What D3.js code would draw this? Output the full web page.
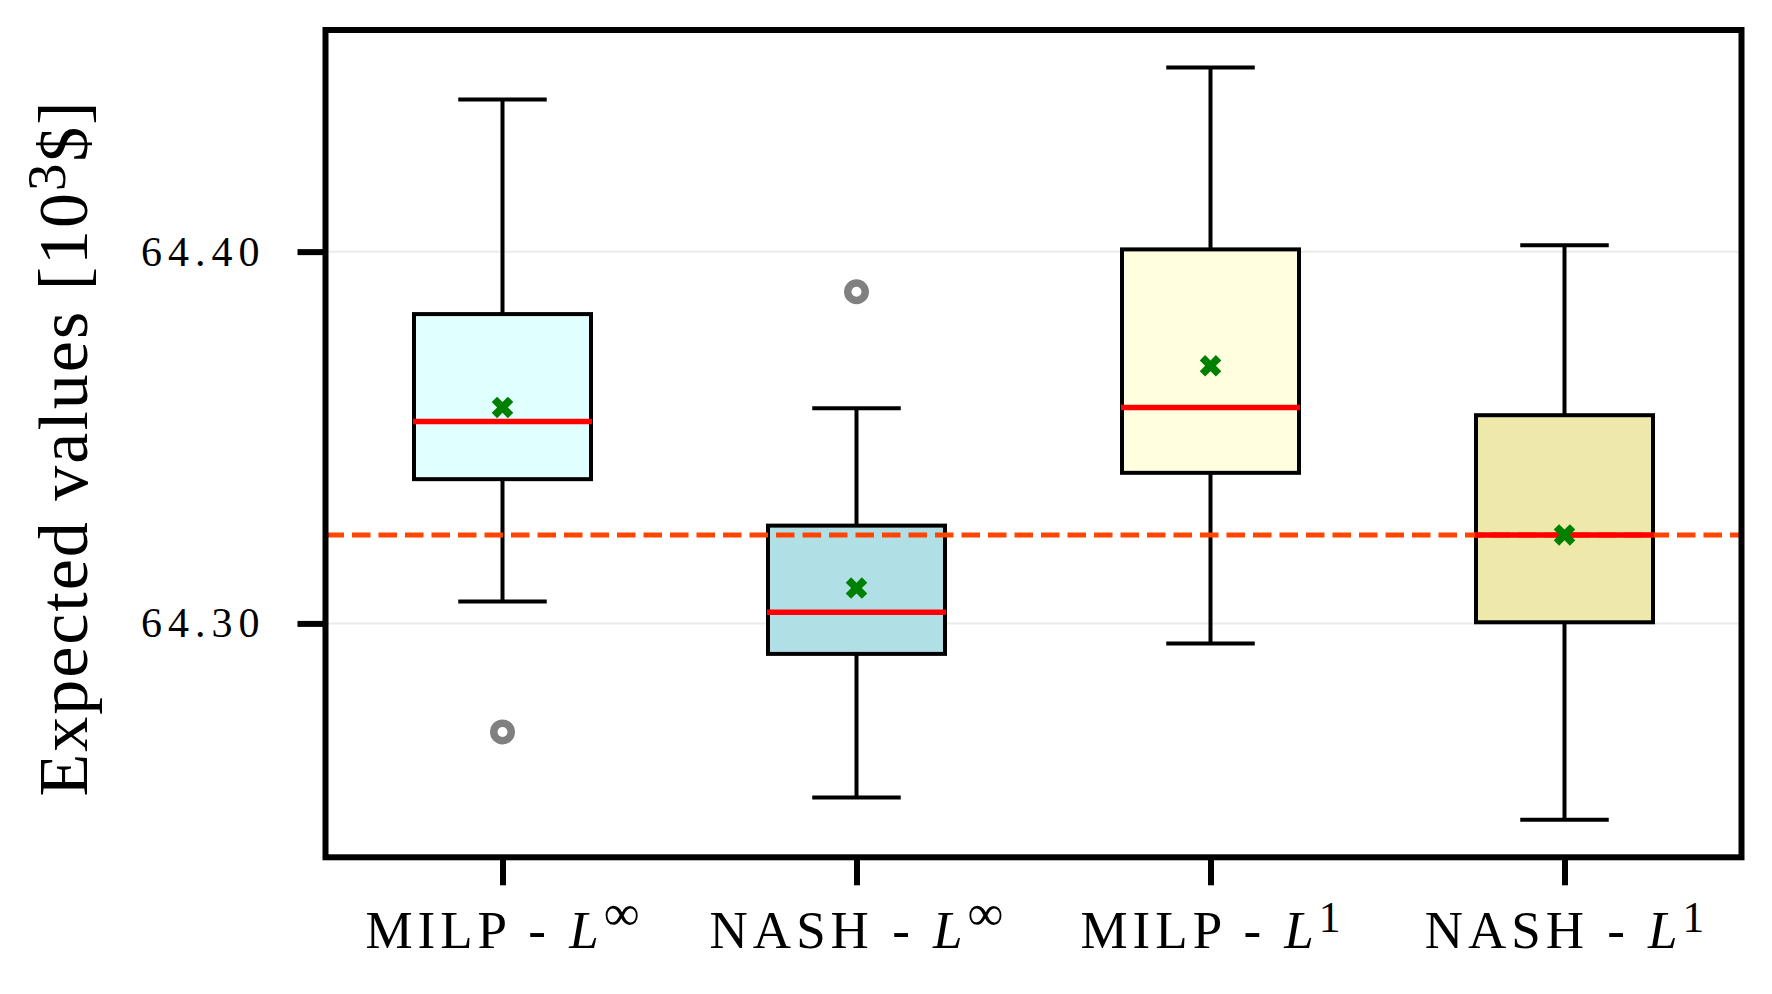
<!DOCTYPE html>
<html>
<head>
<meta charset="utf-8">
<script src="https://cdn.jsdelivr.net/npm/d3@7"></script>
<style>
  html, body { margin: 0; padding: 0; background: #fff; }
  svg { display: block; }
  text { font-family: "Liberation Serif", "DejaVu Serif", serif; fill: #000; white-space: pre; }
</style>
</head>
<body>
<script>
// ---------------- data ----------------
const methods      = ["MILP", "NASH", "MILP", "NASH"];
const norms        = ["\u221E", "\u221E", "1", "1"];
const whiskerLow   = [64.3059, 64.2532, 64.2946, 64.2472];
const q1           = [64.3388, 64.2918, 64.3405, 64.3003];
const medians      = [64.3543, 64.3030, 64.3581, 64.3238];
const q3           = [64.3832, 64.3263, 64.4006, 64.3560];
const whiskerHigh  = [64.4409, 64.3579, 64.4495, 64.4017];
const means        = [64.3581, 64.3095, 64.3693, 64.3238];
const outliers     = [[64.2708], [64.3892], [], []];
const referenceValue = 64.3238;
const yTickValues  = [64.30, 64.40];
const boxColors    = ["#E0FFFF", "#B0E0E6", "#FFFFE0", "#EEE8AA"];
const yLabelMain   = "Expected values [10";
const yLabelSup    = "3";
const yLabelEnd    = "$]";

// ---------------- layout ----------------
const W = 1772, H = 994;
const plot = { left: 325.5, right: 1741.5, top: 30, bottom: 857.3 };

const svg = d3.select("body").append("svg")
  .attr("width", W).attr("height", H)
  .attr("viewBox", `0 0 ${W} ${H}`);
svg.append("rect").attr("width", W).attr("height", H).attr("fill", "#fff");

const idx = d3.range(methods.length);
const x = d3.scalePoint().domain(idx).range([plot.left, plot.right]).padding(0.5);
const step = x.step();
const boxHalf = step * 0.25;
const capHalf = step * 0.125;

const allVals = whiskerLow.concat(whiskerHigh, outliers.flat());
const [vmin, vmax] = d3.extent(allVals);
const pad = (vmax - vmin) * 0.05;
const y = d3.scaleLinear().domain([vmin - pad, vmax + pad]).range([plot.bottom, plot.top]);

// grid
svg.append("g").selectAll("line").data(yTickValues).join("line")
  .attr("x1", plot.left).attr("x2", plot.right)
  .attr("y1", d => y(d)).attr("y2", d => y(d))
  .attr("stroke", "#ebebeb").attr("stroke-width", 2);

// boxes
const g = svg.append("g");
idx.forEach(i => {
  const cx = x(i);
  const lw = 4;
  g.append("line").attr("x1", cx).attr("x2", cx).attr("y1", y(q3[i])).attr("y2", y(whiskerHigh[i]))
    .attr("stroke", "#000").attr("stroke-width", lw);
  g.append("line").attr("x1", cx).attr("x2", cx).attr("y1", y(q1[i])).attr("y2", y(whiskerLow[i]))
    .attr("stroke", "#000").attr("stroke-width", lw);
  [whiskerHigh[i], whiskerLow[i]].forEach(v => {
    g.append("line").attr("x1", cx - capHalf).attr("x2", cx + capHalf).attr("y1", y(v)).attr("y2", y(v))
      .attr("stroke", "#000").attr("stroke-width", lw);
  });
  g.append("rect").attr("x", cx - boxHalf).attr("width", 2 * boxHalf)
    .attr("y", y(q3[i])).attr("height", y(q1[i]) - y(q3[i]))
    .attr("fill", boxColors[i]).attr("stroke", "#000").attr("stroke-width", lw);
});

// reference dashed line
svg.append("line")
  .attr("x1", plot.left).attr("x2", plot.right)
  .attr("y1", y(referenceValue)).attr("y2", y(referenceValue))
  .attr("stroke", "#FF4500").attr("stroke-width", 5)
  .attr("stroke-dasharray", "18.5 8");

// medians
svg.append("g").selectAll("line").data(idx).join("line")
  .attr("x1", i => x(i) - boxHalf - 1).attr("x2", i => x(i) + boxHalf + 1)
  .attr("y1", i => y(medians[i])).attr("y2", i => y(medians[i]))
  .attr("stroke", "#FF0000").attr("stroke-width", 5.5);

// means (filled X)
const xSym = d3.symbol().type(d3.symbolCross).size(290);
svg.append("g").selectAll("path").data(idx).join("path")
  .attr("d", xSym)
  .attr("transform", i => `translate(${x(i)},${y(means[i])}) rotate(45)`)
  .attr("fill", "#008000");

// outliers
const fl = [];
idx.forEach(i => outliers[i].forEach(v => fl.push({ i, v })));
svg.append("g").selectAll("circle").data(fl).join("circle")
  .attr("cx", d => x(d.i)).attr("cy", d => y(d.v)).attr("r", 8.75)
  .attr("fill", "none").attr("stroke", "#808080").attr("stroke-width", 7.5);

// frame
svg.append("rect")
  .attr("x", plot.left).attr("y", plot.top)
  .attr("width", plot.right - plot.left).attr("height", plot.bottom - plot.top)
  .attr("fill", "none").attr("stroke", "#000").attr("stroke-width", 6);

// y axis
const yls = 6;
const yAxis = svg.append("g").attr("transform", `translate(${plot.left},0)`)
  .call(d3.axisLeft(y).tickValues(yTickValues).tickSize(28).tickPadding(32).tickFormat(d3.format(".2f")));
yAxis.select(".domain").remove();
yAxis.selectAll(".tick line").attr("stroke", "#000").attr("stroke-width", 6);
yAxis.selectAll(".tick text")
  .attr("font-size", 42)
  .attr("letter-spacing", yls).attr("fill", "#000");

// x axis
const xAxis = svg.append("g").attr("transform", `translate(0,${plot.bottom})`)
  .call(d3.axisBottom(x).tickSize(28).tickFormat(""));
xAxis.select(".domain").remove();
xAxis.selectAll(".tick line").attr("stroke", "#000").attr("stroke-width", 6);

const xls = 5;
idx.forEach(i => {
  const t = svg.append("text")
    .attr("x", x(i) + xls / 2).attr("y", 948)
    .attr("text-anchor", "middle")
    .attr("font-size", 53).attr("letter-spacing", xls);
  t.append("tspan").text(methods[i] + " - ");
  t.append("tspan").attr("font-style", "italic").text("L");
  t.append("tspan")
    .attr("font-size", norms[i] === "\u221E" ? "0.95em" : "0.82em")
    .attr("dy", norms[i] === "\u221E" ? -18 : -16)
    .text(norms[i]);
});

// y label
const yl = svg.append("text")
  .attr("transform", `translate(87,448) rotate(-90)`)
  .attr("text-anchor", "middle")
  .attr("font-size", 70).attr("letter-spacing", 2);
yl.append("tspan").text(yLabelMain);
yl.append("tspan").attr("font-size", "0.78em").attr("dy", -22).text(yLabelSup);
yl.append("tspan").attr("dy", 22).text(yLabelEnd);
</script>
</body>
</html>
